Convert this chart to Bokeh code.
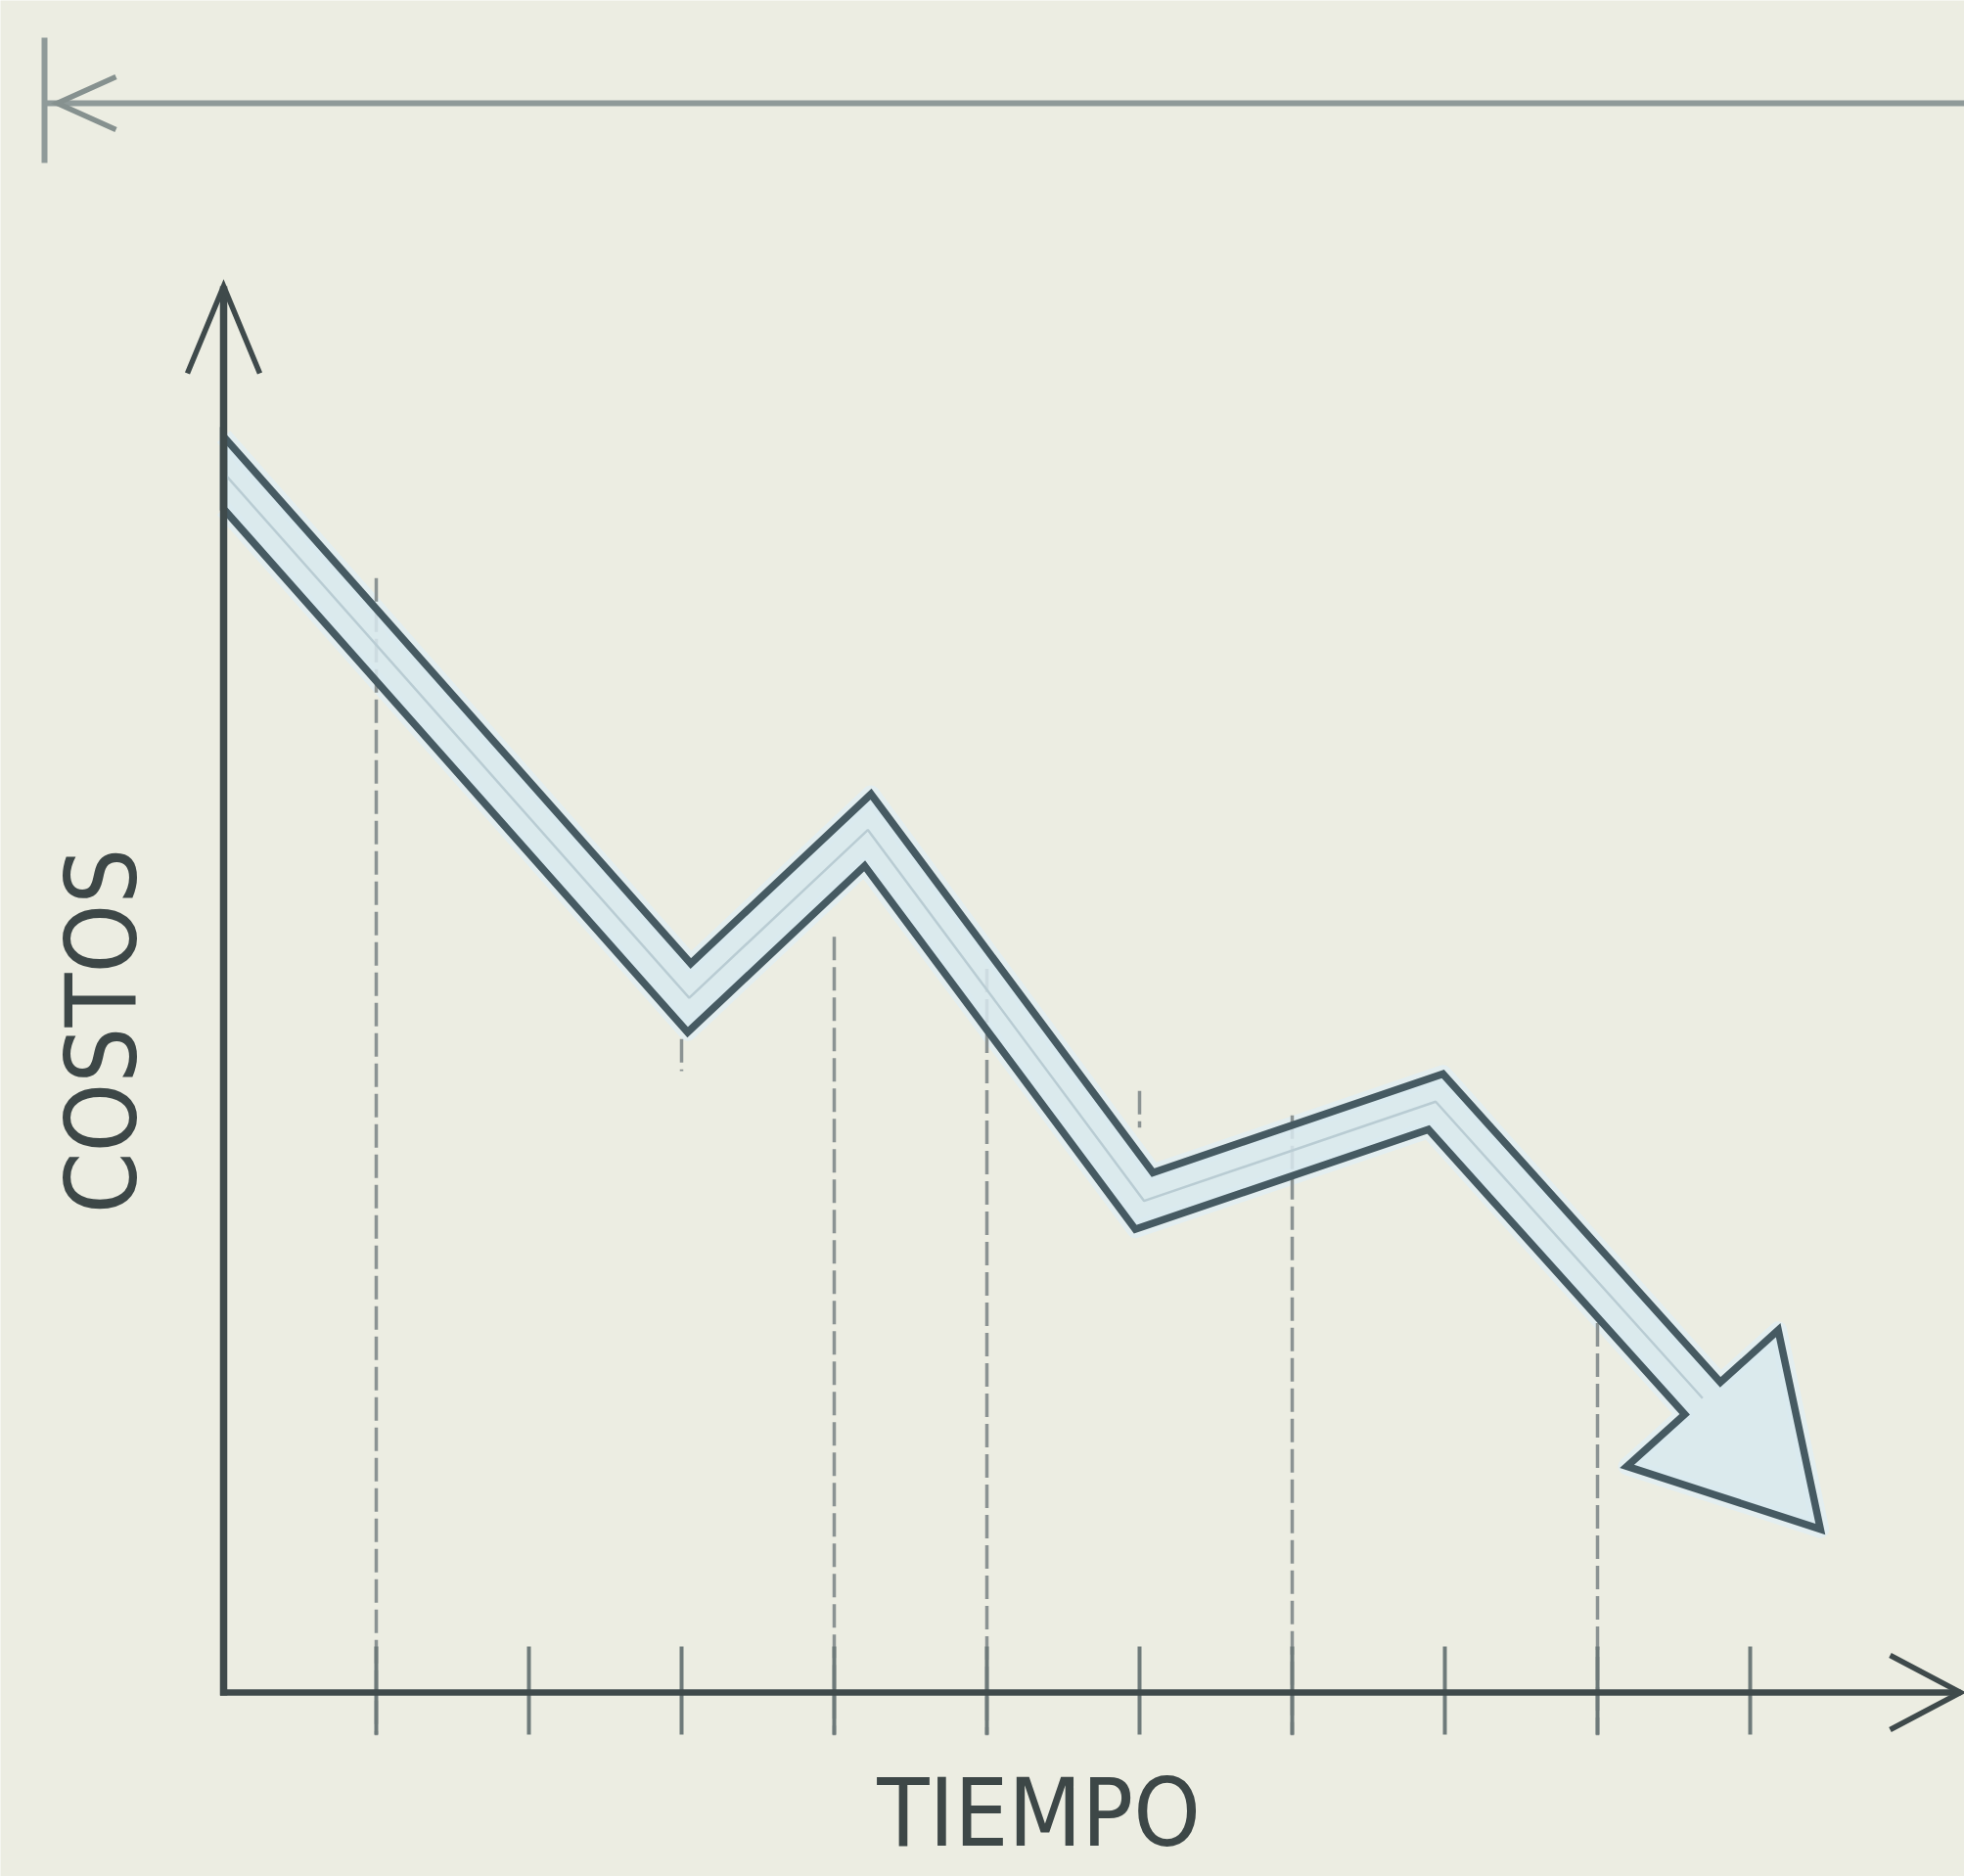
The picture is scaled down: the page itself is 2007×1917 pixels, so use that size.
import numpy as np
from bokeh.plotting import figure
from bokeh.models import Range1d
from bokeh.core.properties import value
from bokeh.embed import file_html
from bokeh.resources import INLINE

# ---------------- data ----------------
time_pts = [0.0, 3.05, 4.22, 6.03, 7.94, 10.46]     # x of the zig-zag vertices (tick units)
cost_pts = [7.99, 4.55, 5.65, 3.22, 3.87, 1.07]     # cost at each vertex
tick_values = [1, 2, 3, 4, 5, 6, 7, 8, 9, 10]
dash_x = [1, 3, 4, 5, 6, 7, 9]
dash_top = [7.30, 4.28, 4.95, 4.74, 3.94, 3.78, 2.42]
dash_bottom = [-0.28, 4.07, -0.28, -0.28, 3.70, -0.28, -0.28]
x_label = "TIEMPO"
y_label = "COSTOS"

# ---------------- layout ----------------
W, H = 2007, 1917
OX, OY = 228.0, 1729.0      # canvas position of the origin
PX = 156.0                  # pixels per unit (both axes)

BG = "#ecede2"
DARK = "#465a62"
AXIS = "#3f4a4b"
FILL = "#d8e9ef"
TEXT = "#3d4747"
TICK = "#6e7a7a"
GUIDE = "#8b9393"
TOPC = "#8f9a99"
FONT = "DejaVu Sans Condensed"


def dx(px):
    return (px - OX) / PX


def dy(py):
    return (OY - py) / PX


def L(pix):
    return pix / PX


p = figure(width=W, height=H, x_range=Range1d(dx(0), dx(W)), y_range=Range1d(dy(H), dy(0)),
           output_backend="svg", toolbar_location=None, min_border=0,
           x_axis_type=None, y_axis_type=None)
p.title.visible = False
p.background_fill_color = BG
p.border_fill_color = BG
p.outline_line_color = None
p.grid.visible = False

# ---------------- band arrow geometry ----------------
HW = L(24.5)
HEAD_HW = L(104.0)
HEAD_LEN = L(180.0)

P = np.column_stack([time_pts, cost_pts]).astype(float)
tip = P[-1]
dl = P[-1] - P[-2]
dl /= np.linalg.norm(dl)
base = tip - dl * HEAD_LEN
shaft = np.vstack([P[:-1], base])


def nrm(v):
    return np.array([-v[1], v[0]])


segs = np.diff(shaft, axis=0)
segs = segs / np.linalg.norm(segs, axis=1)[:, None]
upper, lower = [], []
for i in range(len(shaft)):
    if i == 0:
        n0 = nrm(segs[0])
        d0 = segs[0]
        for sgn, lst in ((1, upper), (-1, lower)):
            q = shaft[0] + sgn * n0 * HW
            t = (time_pts[0] - q[0]) / d0[0]
            lst.append(q + t * d0)          # cut vertically at the y axis
        continue
    if i == len(shaft) - 1:
        n = nrm(segs[-1])
    else:
        n1, n2 = nrm(segs[i - 1]), nrm(segs[i])
        m = n1 + n2
        m /= np.linalg.norm(m)
        n = m / np.dot(m, n1)
    upper.append(shaft[i] + n * HW)
    lower.append(shaft[i] - n * HW)

nl = nrm(dl)
outline = upper + [base + nl * HEAD_HW, tip, base - nl * HEAD_HW] + lower[::-1]
bx = [q[0] for q in outline]
by = [q[1] for q in outline]

# soft halo
p.line(bx, by, line_color="#e3eef0", line_width=18, line_join="round")
# dashed guide lines
p.segment(x0=dash_x, y0=dash_top, x1=dash_x, y1=dash_bottom,
          line_color=GUIDE, line_width=3.5, line_dash="24 7")
# band
p.patch(bx, by, fill_color=FILL, fill_alpha=0.85, line_color=DARK, line_width=7.5,
        line_join="miter")
p.line(shaft[:, 0], shaft[:, 1], line_color="#b9ccd3", line_width=2.5)

# ---------------- axes (drawn in data space) ----------------
x_tip = dx(2003)
y_tip = dy(292)
# ticks
p.segment(x0=tick_values, y0=[L(47)] * len(tick_values), x1=tick_values,
          y1=[-L(43)] * len(tick_values), line_color=TICK, line_width=4)
# axis lines
p.segment(x0=[-L(3.5), 0], y0=[0, -L(3)], x1=[x_tip, 0], y1=[0, y_tip],
          line_color=AXIS, line_width=[6.5, 7.5])
# open arrow heads
p.multi_line(xs=[[-L(37), 0, L(37)], [x_tip - L(72), x_tip, x_tip - L(72)]],
             ys=[[y_tip - L(89), y_tip, y_tip - L(89)], [L(38), 0, -L(38)]],
             line_color=AXIS, line_width=5.5, line_join="miter")

# axis titles
p.text(x=[dx(104)], y=[dy(1053)], text=[y_label], angle=np.pi / 2,
       text_align="center", text_baseline="middle", text_color=TEXT,
       text_font=value(FONT), text_font_size="100px")
p.text(x=[dx(1061)], y=[dy(1852)], text=[x_label], angle=0,
       text_align="center", text_baseline="middle", text_color=TEXT,
       text_font=value(FONT), text_font_size="97px")

# ---------------- top dimension arrow ----------------
ty = dy(105)
p.segment(x0=[dx(45), dx(45)], y0=[ty, dy(38)], x1=[dx(W + 5), dx(45)], y1=[ty, dy(166)],
          line_color=TOPC, line_width=6)
p.multi_line(xs=[[dx(118), dx(58), dx(118)]], ys=[[dy(78), ty, dy(132)]],
             line_color="#86918f", line_width=5.5, line_join="miter")

open("out.html", "w").write(file_html(p, INLINE))
